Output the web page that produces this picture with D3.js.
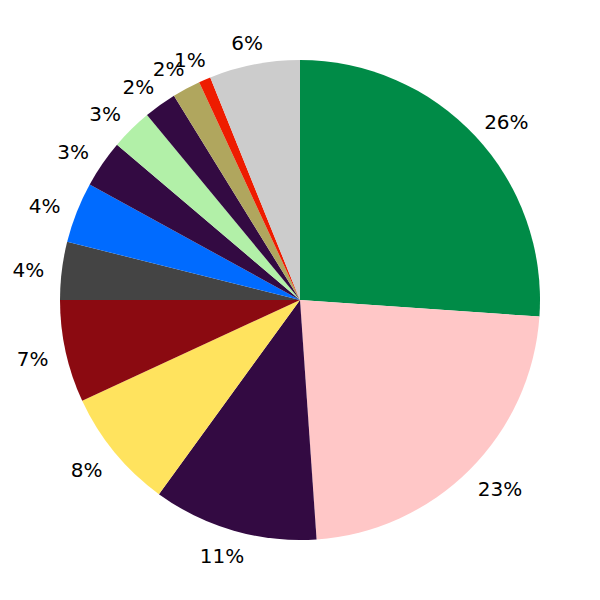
<!DOCTYPE html>
<html>
<head>
<meta charset="utf-8">
<script src="https://cdn.jsdelivr.net/npm/d3@7"></script>
<style>
  html, body { margin: 0; padding: 0; background: #ffffff; }
  svg { display: block; }
</style>
</head>
<body>
<svg id="chart" width="600" height="600"></svg>
<script>
const categories = ["A", "B", "C", "D", "E", "F", "G", "H", "I", "J", "K", "L", "M"];
const values = [26.1, 22.8, 11.1, 8.1, 6.9, 3.9, 4.1, 3.2, 2.8, 2.2, 1.9, 0.8, 6.1];
const labels = ["26%", "23%", "11%", "8%", "7%", "4%", "4%", "3%", "3%", "2%", "2%", "1%", "6%"];
const colors = ["#008b47", "#ffc7c7", "#330a42", "#ffe35e", "#8b0a11", "#444444", "#006bff", "#330a42", "#b2f0a8", "#330a42", "#b0a65e", "#ee1c00", "#cccccc"];

const width = 600, height = 600, radius = 240;
const svg = d3.select("#chart");
const g = svg.append("g").attr("transform", `translate(${width / 2},${height / 2})`);

const data = categories.map((c, i) => ({ cat: c, value: values[i], label: labels[i], color: colors[i] }));

const pie = d3.pie().value(d => d.value).sort(null);
const arcs = pie(data);
const arc = d3.arc().innerRadius(0).outerRadius(radius);
const labelArc = d3.arc().innerRadius(radius * 1.1).outerRadius(radius * 1.1);

g.selectAll("path.slice")
  .data(arcs)
  .join("path")
  .attr("class", "slice")
  .attr("d", arc)
  .attr("fill", d => d.data.color);

const texts = g.selectAll("text.lbl")
  .data(arcs)
  .join("text")
  .attr("class", "lbl")
  .attr("text-anchor", "middle")
  .attr("dy", "0.4em")
  .attr("font-family", "DejaVu Sans, sans-serif")
  .attr("font-size", 20)
  .attr("fill", "#000")
  .text(d => d.data.label);

texts.each(function(d) {
  const w = this.getComputedTextLength();
  const [cx, cy] = labelArc.centroid(d);
  const mid = (d.startAngle + d.endAngle) / 2;
  const s = Math.sin(mid);
  const f = Math.min(Math.abs(s) * 0.85, 0.6);
  const x = cx + Math.sign(s) * f * w / 2;
  d3.select(this).attr("transform", `translate(${x},${cy + 1})`);
});
</script>
</body>
</html>
